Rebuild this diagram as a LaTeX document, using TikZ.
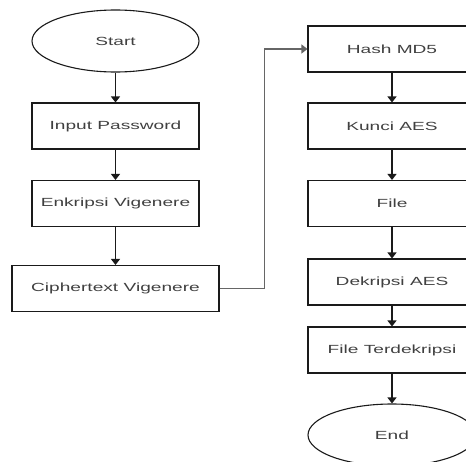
\documentclass[tikz,border=0pt]{standalone}
\usepackage{fontspec}
\setmainfont{Liberation Sans}
\usetikzlibrary{shapes.geometric,arrows.meta}
\definecolor{txt}{HTML}{404040}
\definecolor{ln}{HTML}{1A1A1A}
\newcommand{\wt}[1]{\scalebox{1.62}[1]{#1}}
\begin{document}
\begin{tikzpicture}[x=1pt,y=-1pt,
  box/.style={draw=ln,line width=1.1pt,rectangle,minimum width=167pt,minimum height=46pt,inner sep=0pt,font=\fontsize{11.8}{13}\selectfont,text=txt},
  oval/.style={draw=ln,line width=1.1pt,ellipse,minimum width=167pt,minimum height=62pt,inner sep=0pt,font=\fontsize{11.8}{13}\selectfont,text=txt},
  flow/.style={draw=ln,line width=1.3pt,-{Triangle[length=6pt,width=9pt]}}]
\useasboundingbox (0,0) rectangle (466,461);
\begin{scope}
\clip (0,0) rectangle (466,461);
\node[oval] (start) at (115.5,41) {\wt{Start}};
\node[box] (input) at (115.5,126) {\wt{Input Password}};
\node[box] (enk) at (115.5,203.5) {\wt{Enkripsi Vigenere}};
\node[box,minimum width=207pt] (ciph) at (115.5,288.5) {\wt{Ciphertext Vigenere}};
\node[box,minimum width=168pt] (hash) at (392,49) {\wt{Hash MD5}};
\node[box,minimum width=168pt] (kunci) at (392,126) {\wt{Kunci AES}};
\node[box,minimum width=168pt] (file) at (392,203.5) {\wt{File}};
\node[box,minimum width=168pt] (dek) at (392,282) {\wt{Dekripsi AES}};
\node[box,minimum width=168pt] (ter) at (392,350) {\wt{File Terdekripsi}};
\node[oval,minimum width=168pt] (end) at (392,435) {\wt{End}};
\coordinate (c1) at (264.5,288.5);
\coordinate (c2) at (264.5,49);
\draw[flow] (start) -- (input);
\draw[flow] (input) -- (enk);
\draw[flow] (enk) -- (ciph);
\draw[flow,draw=gray!80!black] (ciph.east) -- (c1) -- (c2) -- (hash.west);
\draw[flow] (hash) -- (kunci);
\draw[flow] (kunci) -- (file);
\draw[flow] (file) -- (dek);
\draw[flow] (dek) -- (ter);
\draw[flow] (ter) -- (end);
\end{scope}
\end{tikzpicture}
\end{document}
